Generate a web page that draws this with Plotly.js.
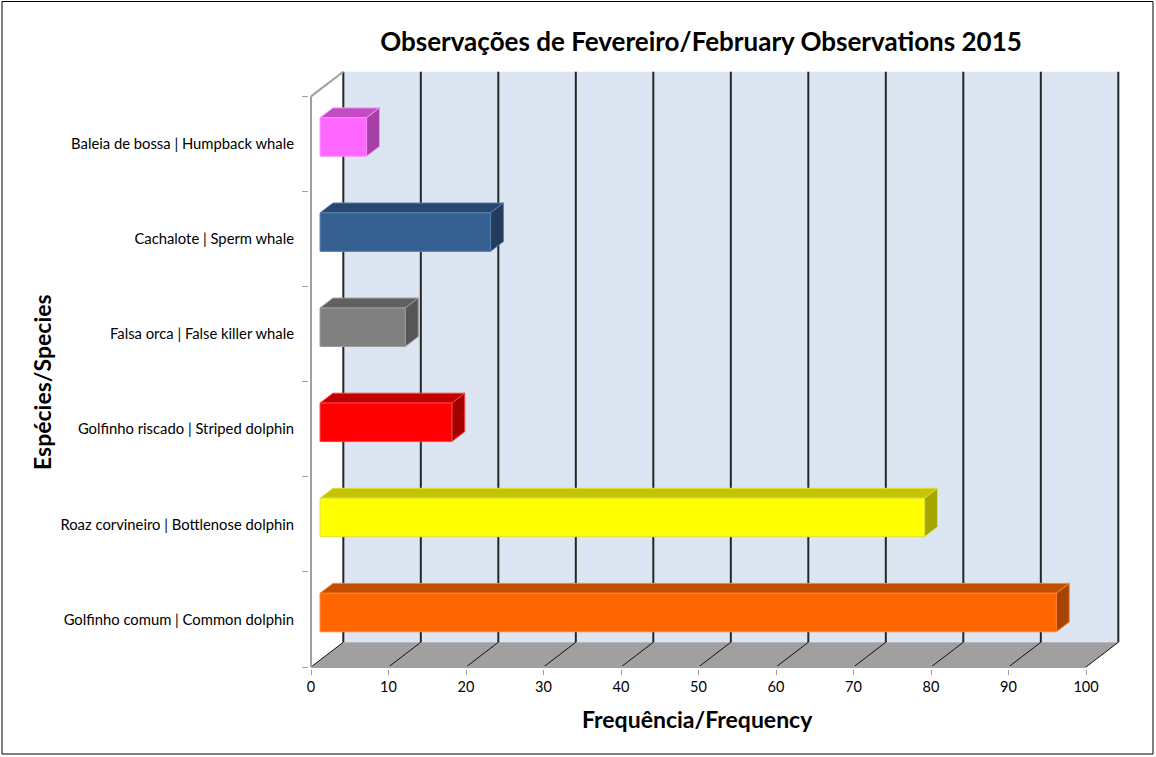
<!DOCTYPE html>
<html>
<head>
<meta charset="utf-8">
<script src="https://cdn.plot.ly/plotly-3.0.1.min.js"></script>
<style>
  body { margin: 0; background: #ffffff; }
  #chart { width: 1156px; height: 757px; }
</style>
</head>
<body>
<div id="chart"></div>
<script>
// data, top to bottom as shown on the chart
var species = [
    "Baleia de bossa | Humpback whale",
    "Cachalote | Sperm whale",
    "Falsa orca | False killer whale",
    "Golfinho riscado | Striped dolphin",
    "Roaz corvineiro | Bottlenose dolphin",
    "Golfinho comum | Common dolphin"
];
var frequency = [6, 22, 11, 17, 78, 95];
var xTicks = [0, 10, 20, 30, 40, 50, 60, 70, 80, 90, 100];

// colours per bar: front, top, side
var frontColors = ["#ff66ff", "#366092", "#808080", "#ff0000", "#ffff00", "#ff6600"];
var topColors   = ["#c34cc3", "#29476e", "#616161", "#c00000", "#c4c400", "#c24e00"];
var sideColors  = ["#a63fa6", "#233c5c", "#565656", "#a30000", "#a6a600", "#a54300"];
var edgeColors  = ["#ff8cff", "#5a80b0", "#9a9a9a", "#ff4040", "#e0e040", "#ff8030"];

// fake 3D geometry (oblique projection)
var DX = 4.17;      // full depth, in x units
var DY = 0.26;      // full depth, in category units
var D0 = 0.28, D1 = 0.68;   // bar depth range
var BAR_H = 0.405;
var XMAX = 100;
var NCAT = species.length;

function poly(xs, ys, fill, lineColor, lineWidth)
{
    return {
        x: xs.concat([xs[0]]),
        y: ys.concat([ys[0]]),
        mode: 'lines',
        fill: 'toself',
        fillcolor: fill,
        line: {color: lineColor || fill, width: lineWidth || 0},
        hoverinfo: 'skip',
        showlegend: false
    };
}

function segments(list, color, width)
{
    var x = [], y = [];
    for (var i = 0; i < list.length; i++) {
        x.push(list[i][0], list[i][2], null);
        y.push(list[i][1], list[i][3], null);
    }
    return {
        x: x, y: y, mode: 'lines',
        line: {color: color, width: width},
        hoverinfo: 'skip', showlegend: false
    };
}

var traces = [];

// back wall
traces.push(poly([DX, XMAX + DX, XMAX + DX, DX], [DY, DY, NCAT + DY, NCAT + DY], '#dce6f2'));

// floor
traces.push(poly([0, XMAX, XMAX + DX, DX], [0, 0, DY, DY], '#a0a0a0'));

// back wall grid lines
var wallGrid = [];
var floorGrid = [];
for (var i = 0; i < xTicks.length; i++) {
    var v = xTicks[i];
    wallGrid.push([v + DX, DY, v + DX, NCAT + DY]);
    floorGrid.push([v, 0, v + DX, DY]);
}
traces.push(segments(wallGrid, '#262626', 2));
traces.push(segments(floorGrid, '#111111', 1));

// left wall edges and front floor edge
traces.push(segments([[0, 0, 0, NCAT], [0, NCAT, DX, NCAT + DY], [0, 0, XMAX, 0]], '#a0a0a0', 2));

// bars
for (var k = 0; k < NCAT; k++) {
    var c = NCAT - 1 - k;          // category slot from the bottom
    var v = frequency[k];
    var x0 = DX * D0, x1 = v + DX * D0;
    var yb = c + 0.5 - BAR_H / 2 + DY * D0;
    var yt = c + 0.5 + BAR_H / 2 + DY * D0;
    var ddx = DX * (D1 - D0), ddy = DY * (D1 - D0);
    traces.push(poly([x0, x1, x1 + ddx, x0 + ddx], [yt, yt, yt + ddy, yt + ddy], topColors[k], edgeColors[k], 1));
    traces.push(poly([x1, x1 + ddx, x1 + ddx, x1], [yb, yb + ddy, yt + ddy, yt], sideColors[k], edgeColors[k], 1));
    traces.push(poly([x0, x1, x1, x0], [yb, yb, yt, yt], frontColors[k], edgeColors[k], 1));
}

var catVals = [], catText = [], catBounds = [];
for (var k = 0; k < NCAT; k++) {
    catVals.push(NCAT - 1 - k + 0.5);
    catText.push(species[k]);
}
for (var k = 0; k <= NCAT; k++) catBounds.push(k);

var layout = {
    width: 1156,
    height: 757,
    autosize: false,
    paper_bgcolor: '#ffffff',
    plot_bgcolor: 'rgba(0,0,0,0)',
    margin: {l: 309, r: 26, t: 60, b: 88},
    font: {family: 'Lato, "Open Sans", sans-serif', color: '#000000'},
    title: {
        text: '<b>Observações de Fevereiro/February Observations 2015</b>',
        font: {size: 26, family: 'Lato, sans-serif', color: '#000000'},
        xref: 'container', yref: 'container',
        x: 701 / 1156, y: 1 - 42 / 757,
        xanchor: 'center', yanchor: 'middle'
    },
    xaxis: {
        range: [-2 / 7.75, (1130 - 311) / 7.75],
        tickmode: 'array',
        tickvals: xTicks,
        ticktext: xTicks.map(String),
        ticks: 'outside', ticklen: 5, tickcolor: '#a0a0a0', tickwidth: 1,
        tickfont: {size: 14.5, color: '#000000'},
        showgrid: false, zeroline: false, showline: false,
        fixedrange: true
    },
    yaxis: {
        range: [-2 / 95.1, (667 - 60) / 95.1],
        tickmode: 'array',
        tickvals: catVals,
        ticktext: catText,
        ticks: 'outside', ticklen: 6, tickcolor: 'rgba(0,0,0,0)',
        ticklabelstandoff: 5,
        minor: {tickmode: 'array', tickvals: catBounds, ticks: 'outside', ticklen: 6, tickcolor: '#a0a0a0', tickwidth: 1},
        tickfont: {size: 14.8, color: '#000000'},
        showgrid: false, zeroline: false, showline: false,
        fixedrange: true
    },
    annotations: [{
        text: '<b>Frequência/Frequency</b>',
        xref: 'paper', yref: 'paper',
        x: (697 - 309) / 821, y: (669 - 719) / 609,
        xanchor: 'center', yanchor: 'middle',
        showarrow: false,
        font: {size: 23, color: '#000000'}
    }, {
        text: '<b>Espécies/Species</b>',
        xref: 'paper', yref: 'paper',
        x: (42 - 309) / 821, y: (669 - 382) / 609,
        xanchor: 'center', yanchor: 'middle',
        textangle: -90,
        showarrow: false,
        font: {size: 23, color: '#000000'}
    }],
    shapes: [{
        type: 'rect', xref: 'paper', yref: 'paper',
        x0: (2 - 309) / 821, x1: (1153 - 309) / 821,
        y0: (669 - 754) / 609, y1: (669 - 1.5) / 609,
        line: {color: '#000000', width: 1}
    }],
    showlegend: false
};

Plotly.newPlot('chart', traces, layout, {staticPlot: true, displayModeBar: false});
</script>
</body>
</html>
